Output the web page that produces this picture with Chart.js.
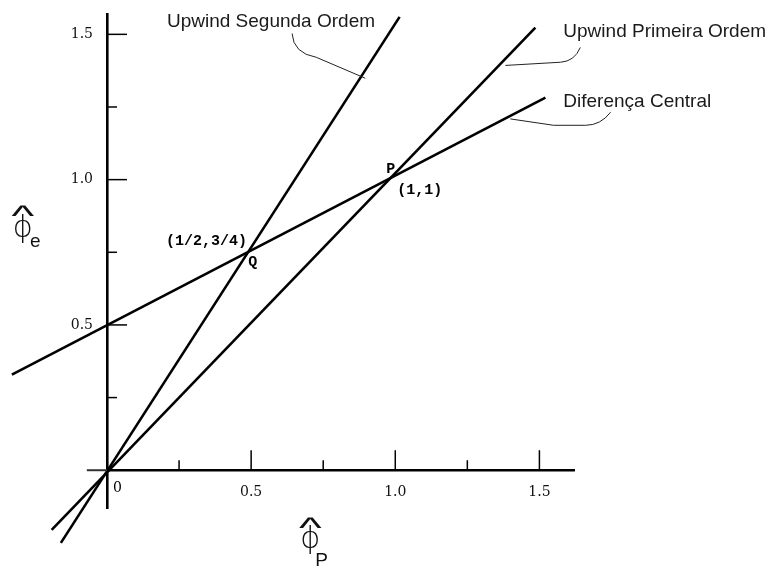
<!DOCTYPE html>
<html>
<head>
<meta charset="utf-8">
<script src="https://cdn.jsdelivr.net/npm/chart.js@4.4.0/dist/chart.umd.min.js"></script>
<style>
  html, body { margin: 0; padding: 0; background: #fff; }
  #wrap { width: 773px; height: 567px; }
</style>
</head>
<body>
<div id="wrap"><canvas id="myChart"></canvas></div>
<script>
// phi_P (x) -> phi_e (y), end points of each scheme's line
const seriesNames = ['Upwind Segunda Ordem', 'Upwind Primeira Ordem', 'Diferença Central'];
const segundaX = [-0.16, 1.015];
const segundaY = [-0.25, 1.56];
const primeiraX = [-0.192, 1.486];
const primeiraY = [-0.205, 1.523];
const centralX = [-0.33, 1.521];
const centralY = [0.329, 1.282];

// axis ticks (every 0.25, labelled every 0.5)
const xTicks = [0.25, 0.5, 0.75, 1.0, 1.25, 1.5];
const xTickLabels = ['', '0.5', '', '1.0', '', '1.5'];
const yTicks = [0.25, 0.5, 0.75, 1.0, 1.25, 1.5];
const yTickLabels = ['', '0.5', '', '1.0', '', '1.5'];

// annotations, in data units
const seriesLabelPos = [[0.208, 1.524], [1.583, 1.49], [1.583, 1.249]];
const pointNotes = [
    {text: '(1/2,3/4)', at: [0.486, 0.775], align: 'right'},
    {text: 'Q', at: [0.49, 0.703], align: 'left'},
    {text: 'P', at: [0.969, 1.022], align: 'left'},
    {text: '(1,1)', at: [1.007, 0.950], align: 'left'}
];

const mk = (xs, ys) => xs.map((x, i) => ({x: x, y: ys[i]}));

const lineStyle = {
    showLine: true,
    borderColor: '#000',
    borderWidth: 2.6,
    pointRadius: 0,
    clip: false
};

// thin curved leaders from each name to its line
const leaders = [
    [[0.642, 1.503], [0.646, 1.435], [0.726, 1.421], [0.896, 1.349]],
    [[1.642, 1.455], [1.622, 1.407], [1.573, 1.404], [1.382, 1.393]],
    [[1.747, 1.232], [1.712, 1.187], [1.660, 1.187], [1.549, 1.187], [1.399, 1.209]]
];

function hat(ctx, x, y) {
    ctx.save();
    ctx.translate(x, y);
    ctx.scale(1.1, 0.65);
    ctx.font = '44px "Liberation Sans", Arial, sans-serif';
    ctx.textAlign = 'center';
    ctx.textBaseline = 'alphabetic';
    ctx.fillText('^', 0, 0);
    ctx.restore();
}

const notes = {
    id: 'notes',
    afterDraw(chart) {
        const ctx = chart.ctx;
        const sx = chart.scales.x, sy = chart.scales.y;
        const px = v => sx.getPixelForValue(v);
        const py = v => sy.getPixelForValue(v);
        const x0 = px(0), y0 = py(0);
        ctx.save();

        // short stub of the x axis left of the origin
        ctx.strokeStyle = '#333';
        ctx.lineWidth = 2;
        ctx.beginPath();
        ctx.moveTo(px(-0.07), y0);
        ctx.lineTo(x0, y0);
        ctx.stroke();

        // inward tick marks
        ctx.strokeStyle = '#000';
        ctx.lineWidth = 1.5;
        sx.ticks.forEach(t => {
            const len = t.label ? 20 : 10;
            ctx.beginPath();
            ctx.moveTo(px(t.value), y0);
            ctx.lineTo(px(t.value), y0 - len);
            ctx.stroke();
        });
        sy.ticks.forEach(t => {
            const len = t.label ? 20 : 10;
            ctx.beginPath();
            ctx.moveTo(x0, py(t.value));
            ctx.lineTo(x0 + len, py(t.value));
            ctx.stroke();
        });

        // leaders
        ctx.strokeStyle = '#222';
        ctx.lineWidth = 1;
        leaders.forEach(p => {
            ctx.beginPath();
            ctx.moveTo(px(p[0][0]), py(p[0][1]));
            ctx.quadraticCurveTo(px(p[1][0]), py(p[1][1]), px(p[2][0]), py(p[2][1]));
            for (let i = 3; i < p.length; i++) ctx.lineTo(px(p[i][0]), py(p[i][1]));
            ctx.stroke();
        });

        // series names
        ctx.fillStyle = '#1a1a1a';
        ctx.font = '19px "Liberation Sans", Arial, sans-serif';
        ctx.textBaseline = 'alphabetic';
        ctx.textAlign = 'left';
        seriesNames.forEach((n, i) => {
            ctx.fillText(n, px(seriesLabelPos[i][0]), py(seriesLabelPos[i][1]));
        });

        // point labels
        ctx.fillStyle = '#000';
        ctx.font = 'bold 15px "Liberation Mono", monospace';
        pointNotes.forEach(n => {
            ctx.textAlign = n.align;
            ctx.fillText(n.text, px(n.at[0]), py(n.at[1]));
        });

        // origin
        ctx.font = '14px "DejaVu Serif", serif';
        ctx.textAlign = 'left';
        ctx.fillText('0', px(0.021), py(-0.074));

        // axis titles: phi-hat with subscripts
        ctx.fillStyle = '#111';
        ctx.textAlign = 'center';
        ctx.font = '200 31px "DejaVu Sans", sans-serif';
        ctx.fillText('ϕ', px(-0.292), py(0.802));
        ctx.fillText('ϕ', px(0.705), py(-0.266));
        hat(ctx, px(-0.292), py(0.842));
        hat(ctx, px(0.705), py(-0.232));
        ctx.textAlign = 'left';
        ctx.font = '19px "Liberation Sans", Arial, sans-serif';
        ctx.fillText('e', px(-0.267), py(0.768));
        ctx.fillText('P', px(0.722), py(-0.328));

        ctx.restore();
    }
};

const noEdgePadding = s => {
    s.paddingTop = 0; s.paddingBottom = 0;
    s.paddingLeft = 0; s.paddingRight = 0;
};

new Chart(document.getElementById('myChart'), {
    type: 'scatter',
    data: {
        datasets: [
            {label: seriesNames[0], data: mk(segundaX, segundaY), ...lineStyle},
            {label: seriesNames[1], data: mk(primeiraX, primeiraY), ...lineStyle},
            {label: seriesNames[2], data: mk(centralX, centralY), ...lineStyle}
        ]
    },
    options: {
        responsive: true,
        maintainAspectRatio: false,
        animation: false,
        layout: {
            padding: {left: 67, right: 199, top: 14, bottom: 59}
        },
        plugins: {
            legend: {display: false},
            tooltip: {enabled: false}
        },
        scales: {
            x: {
                type: 'linear',
                min: 0,
                max: 1.62,
                position: {y: 0},
                afterBuildTicks: s => { s.ticks = xTicks.map(v => ({value: v})); },
                afterFit: noEdgePadding,
                grid: {display: false, drawTicks: false},
                border: {display: true, color: '#000', width: 2.4},
                ticks: {
                    padding: 14,
                    color: '#111',
                    font: {family: 'DejaVu Serif', size: 14},
                    maxRotation: 0,
                    callback: v => xTickLabels[xTicks.indexOf(v)] || ''
                }
            },
            y: {
                type: 'linear',
                min: -0.13,
                max: 1.57,
                position: 'left',
                afterBuildTicks: s => { s.ticks = yTicks.map(v => ({value: v})); },
                afterFit: s => { noEdgePadding(s); s.width = 40; },
                grid: {display: false, drawTicks: false},
                border: {display: true, color: '#000', width: 2.6},
                ticks: {
                    padding: 14,
                    color: '#111',
                    font: {family: 'DejaVu Serif', size: 14},
                    callback: v => yTickLabels[yTicks.indexOf(v)] || ''
                }
            }
        }
    },
    plugins: [notes]
});
</script>
</body>
</html>
